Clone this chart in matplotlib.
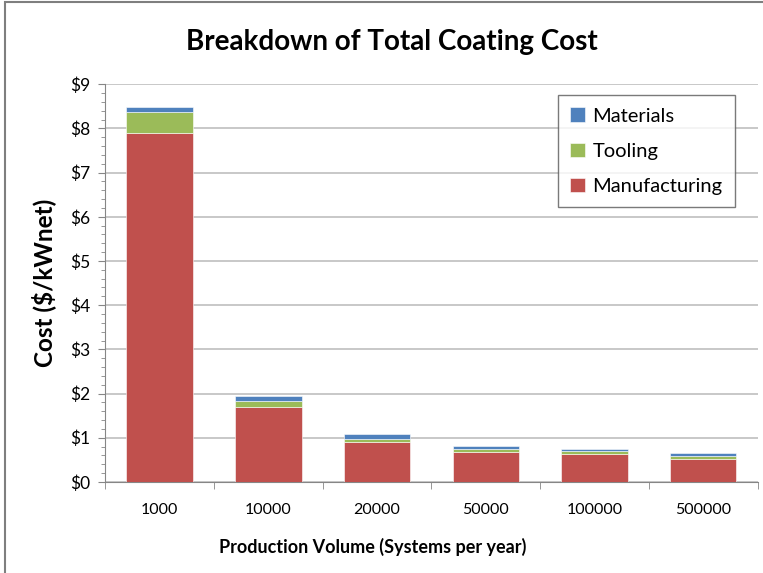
import numpy as np
import matplotlib
matplotlib.use("Agg")
import matplotlib.pyplot as plt
from matplotlib.patches import Rectangle

# Data
volumes = ["1000", "10000", "20000", "50000", "100000", "500000"]
manufacturing = [7.89, 1.70, 0.90, 0.67, 0.64, 0.52]
tooling = [0.49, 0.13, 0.07, 0.08, 0.05, 0.07]
materials = [0.11, 0.11, 0.11, 0.07, 0.06, 0.06]
y_ticks = [0, 1, 2, 3, 4, 5, 6, 7, 8, 9]

plt.rcParams['font.family'] = ['Lato', 'DejaVu Sans']

fig = plt.figure(figsize=(7.63, 5.73), dpi=100)
ax = fig.add_axes([0.138, 0.159, 0.855, 0.694])

# Chart border (only top and left edges fall inside the picture)
fig.patches.append(Rectangle((0.007, -0.05), 1.1, 1.046,
                             transform=fig.transFigure, fill=False,
                             edgecolor="#7f7f7f", linewidth=1.5))

x = np.arange(len(volumes))
width = 0.61
red = "#C0504D"
green = "#9BBB59"
blue = "#4F81BD"

manu = np.array(manufacturing)
tool = np.array(tooling)
mat = np.array(materials)

b1 = ax.bar(x, manu, width, color=red, edgecolor="white", linewidth=0.4,
            label="Manufacturing", zorder=3)
b2 = ax.bar(x, tool, width, bottom=manu, color=green, edgecolor="white",
            linewidth=0.4, label="Tooling", zorder=3)
b3 = ax.bar(x, mat, width, bottom=manu + tool, color=blue, edgecolor="white",
            linewidth=0.4, label="Materials", zorder=3)

ax.set_xlim(-0.5, len(volumes) - 0.5)
ax.set_ylim(0, 9)
ax.set_yticks(y_ticks)
ax.set_yticklabels(["$%d" % v for v in y_ticks], fontsize=12.5)
ax.set_yticks(np.arange(0, 9.01, 0.2), minor=True)
ax.set_xticks(x)
ax.set_xticklabels(volumes, fontsize=11.5)
ax.set_xticks(np.arange(-0.5, len(volumes), 1.0), minor=True)
ax.tick_params(axis="x", which="major", length=0, pad=15)
ax.tick_params(axis="x", which="minor", length=5, color="#868686", direction="out")
ax.tick_params(axis="y", which="major", length=5, color="#868686", pad=6)
ax.tick_params(axis="y", which="minor", length=3, color="#868686")

ax.grid(axis="y", which="major", color="#bfbfbf", linewidth=1.2, zorder=0)
for s in ["top", "right"]:
    ax.spines[s].set_visible(False)
ax.spines["left"].set_color("#868686")
ax.spines["bottom"].set_color("#868686")

fig.text(0.513, 0.927, "Breakdown of Total Coating Cost", fontsize=20,
         fontweight="bold", ha="center", va="center")
ax.set_ylabel("Cost ($/kWnet)", fontsize=17.5, fontweight="bold", labelpad=10)
fig.text(0.489, 0.045, "Production Volume (Systems per year)", fontsize=13,
         fontweight="bold", ha="center", va="center")

leg = ax.legend(handles=[b3, b2, b1], loc="upper right",
                bbox_to_anchor=(0.965, 0.972), fontsize=14.5, frameon=True,
                fancybox=False, edgecolor="#595959", handlelength=0.7,
                handleheight=0.7, handletextpad=0.4, labelspacing=0.9,
                borderpad=0.6, borderaxespad=0)
leg.get_frame().set_linewidth(1.0)

fig.savefig("out.png", dpi=100)
